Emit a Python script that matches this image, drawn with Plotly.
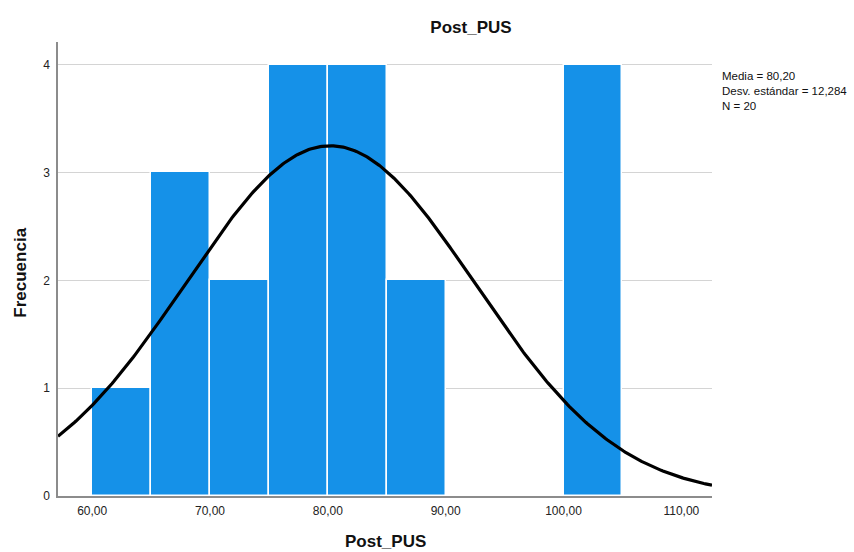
import numpy as np
import plotly.graph_objects as go

# Histogram data (bin edges of width 5)
bin_starts = [60, 65, 70, 75, 80, 85, 90, 95, 100]
counts = [1, 3, 2, 4, 4, 2, 0, 0, 4]
bin_width = 5

mean_val = 80.20
sd_val = 12.284
n_val = 20

x_tick_vals = [60, 70, 80, 90, 100, 110]
x_tick_text = ["60,00", "70,00", "80,00", "90,00", "100,00", "110,00"]
y_tick_vals = [0, 1, 2, 3, 4]

x_range = [57.1, 112.6]
y_range = [0, 4.21]

FONT = "Liberation Sans, Arial, sans-serif"

centers = [s + bin_width / 2 for s in bin_starts]

# Fitted normal curve (as drawn by the histogram's normal overlay)
xc = np.linspace(x_range[0], x_range[1], 400)
yc = n_val * bin_width * np.exp(-0.5 * ((xc - mean_val) / sd_val) ** 2) / (sd_val * np.sqrt(2 * np.pi))

fig = go.Figure()
fig.add_trace(go.Bar(
    x=centers, y=counts, width=[bin_width] * len(centers),
    marker=dict(color="#1591E8", line=dict(color="white", width=1.5)),
    hoverinfo="x+y", showlegend=False,
))
fig.add_trace(go.Scatter(
    x=xc, y=yc, mode="lines",
    line=dict(color="black", width=3.2),
    hoverinfo="skip", showlegend=False,
))

fig.update_layout(
    width=854, height=552,
    margin=dict(l=57.5, r=142, t=42, b=56),
    paper_bgcolor="white", plot_bgcolor="white",
    font=dict(family=FONT, size=12, color="#222"),
    bargap=0,
    title=dict(text="<b>Post_PUS</b>", x=0.5515, xanchor="center",
               y=1 - 27 / 552, yanchor="middle", xref="container", yref="container",
               font=dict(size=17, color="#111", family=FONT)),
)
fig.update_xaxes(
    range=x_range, tickvals=x_tick_vals, ticktext=x_tick_text,
    showgrid=False, zeroline=False, showline=True, linecolor="#8c8c8c", linewidth=1.5,
    ticks="", ticklabelstandoff=3, tickfont=dict(size=12, color="#222"),
)
fig.update_yaxes(
    range=y_range, tickvals=y_tick_vals,
    showgrid=True, gridcolor="#d4d4d4", gridwidth=1.2, zeroline=False,
    showline=True, linecolor="#8c8c8c", linewidth=1.5,
    ticks="", ticklabelstandoff=4, tickfont=dict(size=12, color="#222"),
)

stats_lines = ["Media = 80,20", "Desv. estándar = 12,284", "N = 20"]
fig.add_annotation(
    text="<br>".join(stats_lines), xref="paper", yref="paper",
    x=1.0125, y=(496 - 68) / 454.3, xanchor="left", yanchor="top", align="left",
    showarrow=False, font=dict(size=11.5, color="#111", family=FONT),
)

fig.add_annotation(text="<b>Post_PUS</b>", xref="paper", yref="paper",
                   x=0.5, y=(496 - 542) / 454.3, xanchor="center", yanchor="middle",
                   showarrow=False, font=dict(size=17, color="#111", family=FONT))
fig.add_annotation(text="<b>Frecuencia</b>", xref="paper", yref="paper",
                   x=(20 - 57.5) / 654.5, y=(496 - 273) / 454.3, xanchor="center", yanchor="middle",
                   textangle=-90, showarrow=False, font=dict(size=17, color="#111", family=FONT))

fig.write_html("out.html")
